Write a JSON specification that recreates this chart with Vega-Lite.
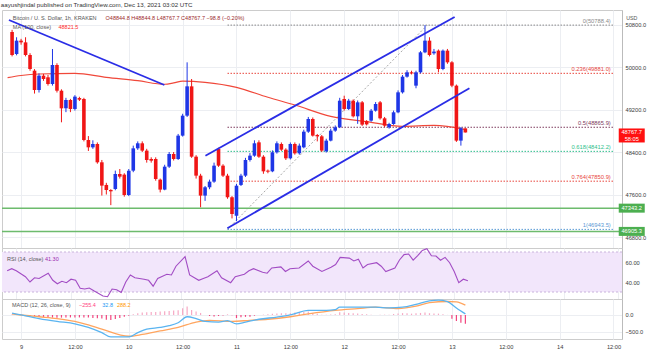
{
"$schema": "https://vega.github.io/schema/vega-lite/v6.json",
"padding": {"left": 0, "top": 2, "right": 0, "bottom": 0},
"bounds": "flush",
"title": {"text": "aayushjindal published on TradingView.com, Dec 13, 2021 03:02 UTC", "anchor": "start", "fontSize": 6.2, "font": "Liberation Sans", "fontWeight": "normal", "color": "#333333", "offset": 1},
"config": {
  "font": "Liberation Sans",
  "view": {"stroke": "#cccccc", "strokeWidth": 1},
  "axis": {"labelFont": "Liberation Sans", "labelFontSize": 5.7, "labelColor": "#3a3a3a", "gridColor": "#eceef2", "gridWidth": 1, "ticks": false, "domainColor": "#bbbbbb", "titleFontSize": 0, "titlePadding": 0},
  "text": {"font": "Liberation Sans", "fontSize": 5.5}
},
"datasets": {
  "candles": [
{"t":"2021-12-08T22:00Z","o":50659,"h":50700,"l":50200,"c":50226},
{"t":"2021-12-08T23:00Z","o":50245,"h":50560,"l":50220,"c":50496},
{"t":"2021-12-09T00:00Z","o":50496,"h":50530,"l":50420,"c":50464},
{"t":"2021-12-09T01:00Z","o":50464,"h":50560,"l":50200,"c":50226},
{"t":"2021-12-09T02:00Z","o":50226,"h":50260,"l":49930,"c":49962},
{"t":"2021-12-09T03:00Z","o":49931,"h":49960,"l":49500,"c":49567},
{"t":"2021-12-09T04:00Z","o":49567,"h":49880,"l":49520,"c":49837},
{"t":"2021-12-09T05:00Z","o":49837,"h":49870,"l":49740,"c":49774},
{"t":"2021-12-09T06:00Z","o":49806,"h":49850,"l":49650,"c":49680},
{"t":"2021-12-09T07:00Z","o":49680,"h":50339,"l":49650,"c":50038},
{"t":"2021-12-09T08:00Z","o":50038,"h":50070,"l":49520,"c":49554},
{"t":"2021-12-09T09:00Z","o":49554,"h":49580,"l":48959,"c":49222},
{"t":"2021-12-09T10:00Z","o":49222,"h":49420,"l":49150,"c":49379},
{"t":"2021-12-09T11:00Z","o":49379,"h":49400,"l":49150,"c":49210},
{"t":"2021-12-09T12:00Z","o":49210,"h":49470,"l":49180,"c":49442},
{"t":"2021-12-09T13:00Z","o":49416,"h":49440,"l":49360,"c":49385},
{"t":"2021-12-09T14:00Z","o":49398,"h":49420,"l":48600,"c":48626},
{"t":"2021-12-09T15:00Z","o":48626,"h":48700,"l":48420,"c":48488},
{"t":"2021-12-09T16:00Z","o":48488,"h":48620,"l":48460,"c":48551},
{"t":"2021-12-09T17:00Z","o":48551,"h":48580,"l":48180,"c":48206},
{"t":"2021-12-09T18:00Z","o":48206,"h":48250,"l":47580,"c":47767},
{"t":"2021-12-09T19:00Z","o":47780,"h":47820,"l":47600,"c":47685},
{"t":"2021-12-09T20:00Z","o":47685,"h":47700,"l":47400,"c":47660},
{"t":"2021-12-09T21:00Z","o":47704,"h":48050,"l":47680,"c":47986},
{"t":"2021-12-09T22:00Z","o":47986,"h":48080,"l":47900,"c":47936},
{"t":"2021-12-09T23:00Z","o":47974,"h":48000,"l":47560,"c":47591},
{"t":"2021-12-10T00:00Z","o":47591,"h":48080,"l":47570,"c":48049},
{"t":"2021-12-10T01:00Z","o":48049,"h":48520,"l":48020,"c":48469},
{"t":"2021-12-10T02:00Z","o":48469,"h":48600,"l":48440,"c":48564},
{"t":"2021-12-10T03:00Z","o":48564,"h":48600,"l":48400,"c":48426},
{"t":"2021-12-10T04:00Z","o":48426,"h":48460,"l":48200,"c":48249},
{"t":"2021-12-10T05:00Z","o":48268,"h":48300,"l":48200,"c":48237},
{"t":"2021-12-10T06:00Z","o":48268,"h":48300,"l":47860,"c":47892},
{"t":"2021-12-10T07:00Z","o":47880,"h":47900,"l":47640,"c":47692},
{"t":"2021-12-10T08:00Z","o":47692,"h":48160,"l":47680,"c":48124},
{"t":"2021-12-10T09:00Z","o":48124,"h":48400,"l":48100,"c":48363},
{"t":"2021-12-10T10:00Z","o":48363,"h":48400,"l":48240,"c":48268},
{"t":"2021-12-10T11:00Z","o":48268,"h":48740,"l":48250,"c":48708},
{"t":"2021-12-10T12:00Z","o":48708,"h":49120,"l":48690,"c":49084},
{"t":"2021-12-10T13:00Z","o":49084,"h":50088,"l":49060,"c":49636},
{"t":"2021-12-10T14:00Z","o":49636,"h":49774,"l":48290,"c":48312},
{"t":"2021-12-10T15:00Z","o":48312,"h":48340,"l":47900,"c":47955},
{"t":"2021-12-10T16:00Z","o":47955,"h":47990,"l":47360,"c":47579},
{"t":"2021-12-10T17:00Z","o":47579,"h":47760,"l":47480,"c":47736},
{"t":"2021-12-10T18:00Z","o":47736,"h":47880,"l":47700,"c":47842},
{"t":"2021-12-10T19:00Z","o":47842,"h":48200,"l":47820,"c":48143},
{"t":"2021-12-10T20:00Z","o":48457,"h":48480,"l":48120,"c":48143},
{"t":"2021-12-10T21:00Z","o":48143,"h":48170,"l":47930,"c":47955},
{"t":"2021-12-10T22:00Z","o":47955,"h":47990,"l":47520,"c":47548},
{"t":"2021-12-10T23:00Z","o":47548,"h":47570,"l":47150,"c":47233},
{"t":"2021-12-11T00:00Z","o":47200,"h":47800,"l":47100,"c":47766},
{"t":"2021-12-11T01:00Z","o":47780,"h":47990,"l":47760,"c":47955},
{"t":"2021-12-11T02:00Z","o":47955,"h":48290,"l":47930,"c":48249},
{"t":"2021-12-11T03:00Z","o":48249,"h":48380,"l":48220,"c":48331},
{"t":"2021-12-11T04:00Z","o":48331,"h":48620,"l":48310,"c":48564},
{"t":"2021-12-11T05:00Z","o":48582,"h":48620,"l":48290,"c":48312},
{"t":"2021-12-11T06:00Z","o":48312,"h":48340,"l":47990,"c":48036},
{"t":"2021-12-11T07:00Z","o":48049,"h":48070,"l":48000,"c":48030},
{"t":"2021-12-11T08:00Z","o":48036,"h":48430,"l":48020,"c":48394},
{"t":"2021-12-11T09:00Z","o":48394,"h":48600,"l":48370,"c":48564},
{"t":"2021-12-11T10:00Z","o":48551,"h":48580,"l":48420,"c":48444},
{"t":"2021-12-11T11:00Z","o":48444,"h":48470,"l":48250,"c":48281},
{"t":"2021-12-11T12:00Z","o":48281,"h":48580,"l":48260,"c":48551},
{"t":"2021-12-11T13:00Z","o":48551,"h":48580,"l":48350,"c":48375},
{"t":"2021-12-11T14:00Z","o":48375,"h":48560,"l":48350,"c":48520},
{"t":"2021-12-11T15:00Z","o":48488,"h":48820,"l":48470,"c":48783},
{"t":"2021-12-11T16:00Z","o":48783,"h":49060,"l":48760,"c":49021},
{"t":"2021-12-11T17:00Z","o":49021,"h":49050,"l":48690,"c":48708},
{"t":"2021-12-11T18:00Z","o":48720,"h":48740,"l":48600,"c":48695},
{"t":"2021-12-11T19:00Z","o":48695,"h":48720,"l":48400,"c":48426},
{"t":"2021-12-11T20:00Z","o":48413,"h":48650,"l":48390,"c":48614},
{"t":"2021-12-11T21:00Z","o":48614,"h":48840,"l":48600,"c":48802},
{"t":"2021-12-11T22:00Z","o":48802,"h":48900,"l":48780,"c":48865},
{"t":"2021-12-11T23:00Z","o":48865,"h":49420,"l":48850,"c":49366},
{"t":"2021-12-12T00:00Z","o":49398,"h":49460,"l":49180,"c":49210},
{"t":"2021-12-12T01:00Z","o":49210,"h":49400,"l":49190,"c":49366},
{"t":"2021-12-12T02:00Z","o":49366,"h":49390,"l":49050,"c":49072},
{"t":"2021-12-12T03:00Z","o":49072,"h":49370,"l":48930,"c":49335},
{"t":"2021-12-12T04:00Z","o":49335,"h":49360,"l":48890,"c":48915},
{"t":"2021-12-12T05:00Z","o":48980,"h":49000,"l":48900,"c":48920},
{"t":"2021-12-12T06:00Z","o":48990,"h":49210,"l":48970,"c":49178},
{"t":"2021-12-12T07:00Z","o":49178,"h":49340,"l":49160,"c":49304},
{"t":"2021-12-12T08:00Z","o":49335,"h":49360,"l":49010,"c":49034},
{"t":"2021-12-12T09:00Z","o":49034,"h":49060,"l":48870,"c":48896},
{"t":"2021-12-12T10:00Z","o":48865,"h":48950,"l":48840,"c":48927},
{"t":"2021-12-12T11:00Z","o":48927,"h":49180,"l":48910,"c":49147},
{"t":"2021-12-12T12:00Z","o":49147,"h":49560,"l":49130,"c":49523},
{"t":"2021-12-12T13:00Z","o":49523,"h":49850,"l":49500,"c":49818},
{"t":"2021-12-12T14:00Z","o":49818,"h":49940,"l":49800,"c":49900},
{"t":"2021-12-12T15:00Z","o":49900,"h":49930,"l":49860,"c":49880},
{"t":"2021-12-12T16:00Z","o":49649,"h":49930,"l":49600,"c":49900},
{"t":"2021-12-12T17:00Z","o":49900,"h":50300,"l":49880,"c":50276},
{"t":"2021-12-12T18:00Z","o":50276,"h":50788.4,"l":50260,"c":50496},
{"t":"2021-12-12T19:00Z","o":50496,"h":50560,"l":50200,"c":50226},
{"t":"2021-12-12T20:00Z","o":50258,"h":50340,"l":50230,"c":50290},
{"t":"2021-12-12T21:00Z","o":50308,"h":50330,"l":49900,"c":49962},
{"t":"2021-12-12T22:00Z","o":49962,"h":50330,"l":49940,"c":50308},
{"t":"2021-12-12T23:00Z","o":50308,"h":50340,"l":50060,"c":50088},
{"t":"2021-12-13T00:00Z","o":50088,"h":50110,"l":49620,"c":49649},
{"t":"2021-12-13T01:00Z","o":49649,"h":49670,"l":48590,"c":48614},
{"t":"2021-12-13T02:00Z","o":48614,"h":48870,"l":48520,"c":48846},
{"t":"2021-12-13T03:00Z","o":48844.8,"h":48844.8,"l":48767.7,"c":48767.7}
  ],
  "ma": [
{"t":"2021-12-08T21:00Z","v":49800},{"t":"2021-12-09T00:00Z","v":49840},{"t":"2021-12-09T04:00Z","v":49868},{"t":"2021-12-09T12:00Z","v":49880},{"t":"2021-12-09T19:00Z","v":49806},{"t":"2021-12-10T02:00Z","v":49742},{"t":"2021-12-10T08:00Z","v":49675},{"t":"2021-12-10T10:00Z","v":49700},{"t":"2021-12-10T12:00Z","v":49735},{"t":"2021-12-10T17:00Z","v":49712},{"t":"2021-12-11T00:00Z","v":49618},{"t":"2021-12-11T07:00Z","v":49430},{"t":"2021-12-11T13:00Z","v":49285},{"t":"2021-12-11T21:00Z","v":49072},{"t":"2021-12-12T05:00Z","v":48971},{"t":"2021-12-12T13:00Z","v":48884},{"t":"2021-12-12T20:00Z","v":48900},{"t":"2021-12-13T03:00Z","v":48822}
  ],
  "channels": [
{"id":"down","t":"2021-12-08T21:18Z","p":50885},{"id":"down","t":"2021-12-10T07:56Z","p":49661},
{"id":"upper","t":"2021-12-10T17:05Z","p":48331},{"id":"upper","t":"2021-12-13T00:36Z","p":50941},
{"id":"lower","t":"2021-12-10T21:58Z","p":46964},{"id":"lower","t":"2021-12-13T03:54Z","p":49599}
  ],
  "fibdiag": [{"t":"2021-12-10T22:00Z","p":46943.5},{"t":"2021-12-12T18:30Z","p":50788.4}],
  "fib": [
{"lvl":"0","p":50788.4,"txt":"0(50788.4)"},
{"lvl":"0.236","p":49881.0,"txt":"0.236(49881.0)"},
{"lvl":"0.5","p":48865.9,"txt":"0.5(48865.9)"},
{"lvl":"0.618","p":48412.2,"txt":"0.618(48412.2)"},
{"lvl":"0.764","p":47850.9,"txt":"0.764(47850.9)"},
{"lvl":"1","p":46943.5,"txt":"1(46943.5)"}
  ],
  "support": [{"p":47343.2,"txt":"47343.2"},{"p":46905.3,"txt":"46905.3"}],
  "rsi": [
{"t":"2021-12-08T22:00Z","v":51.2},{"t":"2021-12-08T23:00Z","v":53.3},{"t":"2021-12-09T00:00Z","v":51.2},{"t":"2021-12-09T02:00Z","v":45.3},{"t":"2021-12-09T03:00Z","v":40},{"t":"2021-12-09T04:00Z","v":44.2},{"t":"2021-12-09T05:00Z","v":43.5},{"t":"2021-12-09T07:00Z","v":48.8},{"t":"2021-12-09T08:00Z","v":41.7},{"t":"2021-12-09T09:00Z","v":38.2},{"t":"2021-12-09T10:00Z","v":40.7},{"t":"2021-12-09T11:00Z","v":39.3},{"t":"2021-12-09T12:00Z","v":42.8},{"t":"2021-12-09T13:00Z","v":41.7},{"t":"2021-12-09T14:00Z","v":33.7},{"t":"2021-12-09T15:00Z","v":33},{"t":"2021-12-09T16:00Z","v":34},{"t":"2021-12-09T17:00Z","v":31.2},{"t":"2021-12-09T19:00Z","v":26},{"t":"2021-12-09T20:00Z","v":25.3},{"t":"2021-12-09T21:00Z","v":33},{"t":"2021-12-09T22:00Z","v":32.3},{"t":"2021-12-09T23:00Z","v":29.5},
{"t":"2021-12-10T00:00Z","v":40},{"t":"2021-12-10T01:00Z","v":47},{"t":"2021-12-10T02:00Z","v":44.2},{"t":"2021-12-10T04:00Z","v":42.8},{"t":"2021-12-10T05:00Z","v":41.7},{"t":"2021-12-10T06:00Z","v":35.8},{"t":"2021-12-10T07:00Z","v":43.5},{"t":"2021-12-10T09:00Z","v":47.7},{"t":"2021-12-10T10:00Z","v":47},{"t":"2021-12-10T11:00Z","v":55.8},{"t":"2021-12-10T13:00Z","v":65.3},{"t":"2021-12-10T14:00Z","v":47},{"t":"2021-12-10T16:00Z","v":41.7},{"t":"2021-12-10T17:00Z","v":43.5},{"t":"2021-12-10T18:00Z","v":45.3},{"t":"2021-12-10T20:00Z","v":51.2},{"t":"2021-12-10T21:00Z","v":44.2},{"t":"2021-12-10T23:00Z","v":39.3},
{"t":"2021-12-11T00:00Z","v":45.3},{"t":"2021-12-11T02:00Z","v":47.7},{"t":"2021-12-11T03:00Z","v":51.2},{"t":"2021-12-11T04:00Z","v":53.3},{"t":"2021-12-11T06:00Z","v":49.8},{"t":"2021-12-11T07:00Z","v":48.8},{"t":"2021-12-11T08:00Z","v":54},{"t":"2021-12-11T10:00Z","v":55.1},{"t":"2021-12-11T11:00Z","v":50.5},{"t":"2021-12-11T12:00Z","v":53.3},{"t":"2021-12-11T14:00Z","v":54},{"t":"2021-12-11T16:00Z","v":61},{"t":"2021-12-11T17:00Z","v":55.8},{"t":"2021-12-11T19:00Z","v":50.5},{"t":"2021-12-11T21:00Z","v":54.7},{"t":"2021-12-11T22:00Z","v":57.5},{"t":"2021-12-11T23:00Z","v":64.6},
{"t":"2021-12-12T01:00Z","v":63.9},{"t":"2021-12-12T02:00Z","v":61},{"t":"2021-12-12T03:00Z","v":62.8},{"t":"2021-12-12T04:00Z","v":54},{"t":"2021-12-12T05:00Z","v":57.5},{"t":"2021-12-12T07:00Z","v":59.3},{"t":"2021-12-12T08:00Z","v":55.8},{"t":"2021-12-12T09:00Z","v":50.5},{"t":"2021-12-12T11:00Z","v":54},{"t":"2021-12-12T12:00Z","v":62},{"t":"2021-12-12T13:00Z","v":67.4},{"t":"2021-12-12T14:00Z","v":68},{"t":"2021-12-12T15:00Z","v":61.8},{"t":"2021-12-12T16:00Z","v":66.3},{"t":"2021-12-12T17:00Z","v":71.6},{"t":"2021-12-12T18:00Z","v":73.3},{"t":"2021-12-12T19:00Z","v":66.3},{"t":"2021-12-12T20:00Z","v":66},{"t":"2021-12-12T21:00Z","v":61.8},{"t":"2021-12-12T22:00Z","v":64.6},{"t":"2021-12-12T23:00Z","v":59.3},
{"t":"2021-12-13T00:00Z","v":50.5},{"t":"2021-12-13T01:00Z","v":39.3},{"t":"2021-12-13T02:00Z","v":42.8},{"t":"2021-12-13T03:00Z","v":41.3}
  ],
  "macdline": [
{"t":"2021-12-08T22:00Z","v":52},{"t":"2021-12-09T00:00Z","v":0},{"t":"2021-12-09T04:00Z","v":-104},{"t":"2021-12-09T08:00Z","v":-188},{"t":"2021-12-09T12:00Z","v":-260},{"t":"2021-12-09T15:00Z","v":-365},{"t":"2021-12-09T18:00Z","v":-521},{"t":"2021-12-09T20:00Z","v":-646},{"t":"2021-12-10T00:00Z","v":-646},{"t":"2021-12-10T02:00Z","v":-521},{"t":"2021-12-10T04:00Z","v":-417},{"t":"2021-12-10T07:00Z","v":-365},{"t":"2021-12-10T09:00Z","v":-313},{"t":"2021-12-10T11:00Z","v":-229},{"t":"2021-12-10T13:00Z","v":-52},{"t":"2021-12-10T15:00Z","v":-104},{"t":"2021-12-10T17:00Z","v":-188},{"t":"2021-12-10T20:00Z","v":-208},{"t":"2021-12-10T22:00Z","v":-167},{"t":"2021-12-11T00:00Z","v":-260},{"t":"2021-12-11T02:00Z","v":-208},{"t":"2021-12-11T05:00Z","v":-125},{"t":"2021-12-11T09:00Z","v":-63},{"t":"2021-12-11T12:00Z","v":0},{"t":"2021-12-11T16:00Z","v":135},{"t":"2021-12-11T20:00Z","v":135},{"t":"2021-12-11T22:00Z","v":156},{"t":"2021-12-11T23:00Z","v":229},{"t":"2021-12-12T03:00Z","v":229},{"t":"2021-12-12T07:00Z","v":229},{"t":"2021-12-12T10:00Z","v":208},{"t":"2021-12-12T13:00Z","v":229},{"t":"2021-12-12T16:00Z","v":313},{"t":"2021-12-12T19:00Z","v":417},{"t":"2021-12-12T21:00Z","v":438},{"t":"2021-12-12T23:00Z","v":396},{"t":"2021-12-13T01:00Z","v":208},{"t":"2021-12-13T03:00Z","v":32.8}
  ],
  "sigline": [
{"t":"2021-12-08T22:00Z","v":31},{"t":"2021-12-09T00:00Z","v":0},{"t":"2021-12-09T04:00Z","v":-52},{"t":"2021-12-09T08:00Z","v":-104},{"t":"2021-12-09T12:00Z","v":-188},{"t":"2021-12-09T15:00Z","v":-292},{"t":"2021-12-09T18:00Z","v":-417},{"t":"2021-12-10T00:00Z","v":-625},{"t":"2021-12-10T03:00Z","v":-573},{"t":"2021-12-10T07:00Z","v":-469},{"t":"2021-12-10T11:00Z","v":-365},{"t":"2021-12-10T15:00Z","v":-208},{"t":"2021-12-10T18:00Z","v":-156},{"t":"2021-12-10T23:00Z","v":-188},{"t":"2021-12-11T03:00Z","v":-156},{"t":"2021-12-11T07:00Z","v":-125},{"t":"2021-12-11T12:00Z","v":-52},{"t":"2021-12-11T16:00Z","v":31},{"t":"2021-12-11T22:00Z","v":135},{"t":"2021-12-12T03:00Z","v":188},{"t":"2021-12-12T07:00Z","v":229},{"t":"2021-12-12T12:00Z","v":188},{"t":"2021-12-12T16:00Z","v":260},{"t":"2021-12-12T19:00Z","v":365},{"t":"2021-12-12T23:00Z","v":396},{"t":"2021-12-13T01:00Z","v":385},{"t":"2021-12-13T03:00Z","v":288.2}
  ],
  "histo": [
{"t":"2021-12-08T22:00Z","v":21},{"t":"2021-12-08T23:00Z","v":15},{"t":"2021-12-09T00:00Z","v":3},{"t":"2021-12-09T01:00Z","v":-12},{"t":"2021-12-09T02:00Z","v":-25},{"t":"2021-12-09T03:00Z","v":-38},{"t":"2021-12-09T04:00Z","v":-52},{"t":"2021-12-09T05:00Z","v":-60},{"t":"2021-12-09T06:00Z","v":-68},{"t":"2021-12-09T07:00Z","v":-76},{"t":"2021-12-09T08:00Z","v":-84},{"t":"2021-12-09T09:00Z","v":-78},{"t":"2021-12-09T10:00Z","v":-75},{"t":"2021-12-09T11:00Z","v":-72},{"t":"2021-12-09T12:00Z","v":-72},{"t":"2021-12-09T13:00Z","v":-72},{"t":"2021-12-09T14:00Z","v":-73},{"t":"2021-12-09T15:00Z","v":-73},{"t":"2021-12-09T16:00Z","v":-85},{"t":"2021-12-09T17:00Z","v":-95},{"t":"2021-12-09T18:00Z","v":-104},{"t":"2021-12-09T19:00Z","v":-140},{"t":"2021-12-09T20:00Z","v":-150},{"t":"2021-12-09T21:00Z","v":-120},{"t":"2021-12-09T22:00Z","v":-90},{"t":"2021-12-09T23:00Z","v":-55},
{"t":"2021-12-10T00:00Z","v":-21},{"t":"2021-12-10T01:00Z","v":20},{"t":"2021-12-10T02:00Z","v":52},{"t":"2021-12-10T03:00Z","v":75},{"t":"2021-12-10T04:00Z","v":80},{"t":"2021-12-10T05:00Z","v":85},{"t":"2021-12-10T06:00Z","v":90},{"t":"2021-12-10T07:00Z","v":104},{"t":"2021-12-10T08:00Z","v":110},{"t":"2021-12-10T09:00Z","v":120},{"t":"2021-12-10T10:00Z","v":130},{"t":"2021-12-10T11:00Z","v":136},{"t":"2021-12-10T12:00Z","v":200},{"t":"2021-12-10T13:00Z","v":250},{"t":"2021-12-10T14:00Z","v":150},{"t":"2021-12-10T15:00Z","v":104},{"t":"2021-12-10T16:00Z","v":60},{"t":"2021-12-10T17:00Z","v":3},{"t":"2021-12-10T18:00Z","v":-30},{"t":"2021-12-10T19:00Z","v":-45},{"t":"2021-12-10T20:00Z","v":-30},{"t":"2021-12-10T21:00Z","v":-15},{"t":"2021-12-10T22:00Z","v":20},{"t":"2021-12-10T23:00Z","v":-10},
{"t":"2021-12-11T00:00Z","v":-90},{"t":"2021-12-11T01:00Z","v":-70},{"t":"2021-12-11T02:00Z","v":-55},{"t":"2021-12-11T03:00Z","v":-50},{"t":"2021-12-11T04:00Z","v":-20},{"t":"2021-12-11T05:00Z","v":3},{"t":"2021-12-11T06:00Z","v":10},{"t":"2021-12-11T07:00Z","v":25},{"t":"2021-12-11T08:00Z","v":40},{"t":"2021-12-11T09:00Z","v":45},{"t":"2021-12-11T10:00Z","v":50},{"t":"2021-12-11T11:00Z","v":52},{"t":"2021-12-11T12:00Z","v":52},{"t":"2021-12-11T13:00Z","v":70},{"t":"2021-12-11T14:00Z","v":85},{"t":"2021-12-11T15:00Z","v":95},{"t":"2021-12-11T16:00Z","v":104},{"t":"2021-12-11T17:00Z","v":60},{"t":"2021-12-11T18:00Z","v":35},{"t":"2021-12-11T19:00Z","v":10},{"t":"2021-12-11T20:00Z","v":5},{"t":"2021-12-11T21:00Z","v":15},{"t":"2021-12-11T22:00Z","v":21},{"t":"2021-12-11T23:00Z","v":80},
{"t":"2021-12-12T00:00Z","v":70},{"t":"2021-12-12T01:00Z","v":60},{"t":"2021-12-12T02:00Z","v":50},{"t":"2021-12-12T03:00Z","v":41},{"t":"2021-12-12T04:00Z","v":30},{"t":"2021-12-12T05:00Z","v":20},{"t":"2021-12-12T06:00Z","v":10},{"t":"2021-12-12T07:00Z","v":3},{"t":"2021-12-12T08:00Z","v":5},{"t":"2021-12-12T09:00Z","v":10},{"t":"2021-12-12T10:00Z","v":10},{"t":"2021-12-12T11:00Z","v":30},{"t":"2021-12-12T12:00Z","v":45},{"t":"2021-12-12T13:00Z","v":55},{"t":"2021-12-12T14:00Z","v":50},{"t":"2021-12-12T15:00Z","v":40},{"t":"2021-12-12T16:00Z","v":53},{"t":"2021-12-12T17:00Z","v":60},{"t":"2021-12-12T18:00Z","v":70},{"t":"2021-12-12T19:00Z","v":52},{"t":"2021-12-12T20:00Z","v":45},{"t":"2021-12-12T21:00Z","v":40},{"t":"2021-12-12T22:00Z","v":20},{"t":"2021-12-12T23:00Z","v":3},
{"t":"2021-12-13T00:00Z","v":-110},{"t":"2021-12-13T01:00Z","v":-177},{"t":"2021-12-13T02:00Z","v":-230},{"t":"2021-12-13T03:00Z","v":-255.4}
  ]
},
"spacing": 0,
"vconcat": [
{
  "width": 620, "height": 238,
  "layer": [
    {"data": {"name": "fib"}, "mark": {"type": "rule", "strokeDash": [1.5, 1.5], "strokeWidth": 1},
     "encoding": {
       "x": {"datum": 1639173600000, "type": "temporal"},
       "x2": {"datum": 1639483560000},
       "y": {"field": "p", "type": "quantitative"},
       "color": {"field": "lvl", "type": "nominal", "legend": null, "scale": {"domain": ["0", "0.236", "0.5", "0.618", "0.764", "1"], "range": ["#8a8a8a", "#e8453c", "#7d3a5c", "#2fbf8c", "#e8453c", "#5b9bd5"]}}}},
    {"data": {"name": "fib"}, "mark": {"type": "text", "align": "right", "baseline": "bottom", "dy": -1, "fontSize": 5.8},
     "encoding": {
       "x": {"datum": 1639481040000, "type": "temporal"},
       "y": {"field": "p", "type": "quantitative"},
       "text": {"field": "txt"},
       "color": {"field": "lvl", "type": "nominal", "legend": null}}},
    {"data": {"name": "fibdiag"}, "mark": {"type": "line", "strokeDash": [2, 2], "strokeWidth": 1, "color": "#a8a8a8"},
     "encoding": {"x": {"field": "t", "type": "temporal"}, "y": {"field": "p", "type": "quantitative"}}},
    {"data": {"name": "support"}, "mark": {"type": "rule", "color": "#6dbb6d", "strokeWidth": 1.5},
     "encoding": {"y": {"field": "p", "type": "quantitative"}}},
    {"data": {"name": "ma"}, "mark": {"type": "line", "color": "#f0483a", "strokeWidth": 1.2, "interpolate": "monotone"},
     "encoding": {"x": {"field": "t", "type": "temporal"}, "y": {"field": "v", "type": "quantitative"}}},
    {"data": {"name": "candles"}, "mark": {"type": "rule", "strokeWidth": 1},
     "encoding": {
       "x": {"field": "t", "type": "temporal", "title": null,
             "scale": {"type": "utc", "nice": false, "domain": [1638996720000, 1639486020000]},
             "axis": {"title": null, "labels": false, "ticks": false, "domain": false, "grid": true, "values": [1639008000000, 1639051200000, 1639094400000, 1639137600000, 1639180800000, 1639224000000, 1639267200000, 1639310400000, 1639353600000, 1639396800000, 1639440000000, 1639483200000]}},
       "y": {"field": "l", "type": "quantitative", "title": null,
             "scale": {"domain": [46593, 51073], "nice": false, "zero": false},
             "axis": {"title": null, "orient": "right", "values": [46800, 47200, 47600, 48000, 48400, 48800, 49200, 49600, 50000, 50400, 50800], "format": ".1f", "labelPadding": 3, "grid": true, "domain": true}},
       "y2": {"field": "h"},
       "color": {"condition": {"test": "datum.c < datum.o", "value": "#f01616"}, "value": "#1e36e6"}}},
    {"data": {"name": "candles"}, "mark": {"type": "bar", "size": 3.6},
     "encoding": {
       "x": {"field": "t", "type": "temporal"},
       "y": {"field": "o", "type": "quantitative"},
       "y2": {"field": "c"},
       "color": {"condition": {"test": "datum.c < datum.o", "value": "#f01616"}, "value": "#1e36e6"}}},
    {"data": {"name": "channels"}, "mark": {"type": "line", "color": "#2a2de6", "strokeWidth": 1.8},
     "encoding": {"x": {"field": "t", "type": "temporal"}, "y": {"field": "p", "type": "quantitative"}, "detail": {"field": "id"}}},
    {"data": {"values": [{}]}, "mark": {"type": "text", "align": "left", "baseline": "middle", "color": "#555555"},
     "encoding": {"x": {"datum": 1639001400000, "type": "temporal"}, "y": {"datum": 50922}, "text": {"value": "Bitcoin / U. S. Dollar, 1h, KRAKEN"}}},
    {"data": {"values": [{}]}, "mark": {"type": "text", "align": "left", "baseline": "middle", "color": "#9b2a2a"},
     "encoding": {"x": {"datum": 1639075800000, "type": "temporal"}, "y": {"datum": 50922}, "text": {"value": "O48844.8  H48844.8  L48767.7  C48767.7  −98.8 (−0.20%)"}}},
    {"data": {"values": [{}]}, "mark": {"type": "text", "align": "left", "baseline": "middle", "color": "#555555"},
     "encoding": {"x": {"datum": 1639001400000, "type": "temporal"}, "y": {"datum": 50753}, "text": {"value": "MA (100, close)"}}},
    {"data": {"values": [{}]}, "mark": {"type": "text", "align": "left", "baseline": "middle", "color": "#ff2a2a"},
     "encoding": {"x": {"datum": 1639038000000, "type": "temporal"}, "y": {"datum": 50753}, "text": {"value": "48821.5"}}},
    {"data": {"values": [{}]}, "mark": {"type": "text", "align": "center", "baseline": "middle", "color": "#555555", "fontSize": 5.3},
     "encoding": {"x": {"datum": 1639497840000, "type": "temporal"}, "y": {"datum": 50930}, "text": {"value": "USD"}}},
    {"data": {"values": [{}]}, "mark": {"type": "tick", "orient": "horizontal", "size": 26, "thickness": 14, "yOffset": 3, "color": "#ff1010", "opacity": 1},
     "encoding": {"x": {"datum": 1639497840000, "type": "temporal"}, "y": {"datum": 48767.7}}},
    {"data": {"values": [{}]}, "mark": {"type": "text", "align": "center", "baseline": "middle", "color": "#ffffff", "fontSize": 5.7},
     "encoding": {"x": {"datum": 1639497840000, "type": "temporal"}, "y": {"datum": 48767.7}, "text": {"value": "48767.7"}}},
    {"data": {"values": [{}]}, "mark": {"type": "text", "align": "center", "baseline": "middle", "color": "#ffffff", "dy": 6.5, "fontSize": 5.7},
     "encoding": {"x": {"datum": 1639497840000, "type": "temporal"}, "y": {"datum": 48767.7}, "text": {"value": "58:05"}}},
    {"data": {"name": "support"}, "mark": {"type": "tick", "orient": "horizontal", "size": 26, "thickness": 9, "color": "#4caf50", "opacity": 1},
     "encoding": {"x": {"datum": 1639497840000, "type": "temporal"}, "y": {"field": "p", "type": "quantitative"}}},
    {"data": {"name": "support"}, "mark": {"type": "text", "align": "center", "baseline": "middle", "color": "#ffffff", "fontSize": 5.7},
     "encoding": {"x": {"datum": 1639497840000, "type": "temporal"}, "y": {"field": "p", "type": "quantitative"}, "text": {"field": "txt"}}}
  ]
},
{
  "width": 620, "height": 51,
  "layer": [
    {"data": {"values": [{}]}, "mark": {"type": "rect", "color": "#f2e6fb"},
     "encoding": {"y": {"datum": 70}, "y2": {"datum": 30}}},
    {"data": {"values": [{}]}, "mark": {"type": "rule", "color": "#c9b3dc", "strokeDash": [2, 2], "strokeWidth": 1},
     "encoding": {"y": {"datum": 70}}},
    {"data": {"values": [{}]}, "mark": {"type": "rule", "color": "#c9b3dc", "strokeDash": [2, 2], "strokeWidth": 1},
     "encoding": {"y": {"datum": 30}}},
    {"data": {"name": "rsi"}, "mark": {"type": "line", "color": "#a24cc4", "strokeWidth": 1.1},
     "encoding": {
       "x": {"field": "t", "type": "temporal", "title": null,
             "scale": {"type": "utc", "nice": false, "domain": [1638996720000, 1639486020000]},
             "axis": {"title": null, "labels": false, "ticks": false, "domain": false, "grid": true, "values": [1639008000000, 1639051200000, 1639094400000, 1639137600000, 1639180800000, 1639224000000, 1639267200000, 1639310400000, 1639353600000, 1639396800000, 1639440000000, 1639483200000]}},
       "y": {"field": "v", "type": "quantitative", "title": null,
             "scale": {"domain": [23, 74], "nice": false, "zero": false},
             "axis": {"title": null, "orient": "right", "values": [40, 60], "format": ".2f", "labelPadding": 3, "grid": true, "gridColor": "#ddd0e8", "domain": true}}}},
    {"data": {"values": [{}]}, "mark": {"type": "text", "align": "left", "baseline": "middle", "color": "#555555"},
     "encoding": {"x": {"datum": 1639000680000, "type": "temporal"}, "y": {"datum": 63.5}, "text": {"value": "RSI (14, close)"}}},
    {"data": {"values": [{}]}, "mark": {"type": "text", "align": "left", "baseline": "middle", "color": "#9c27b0"},
     "encoding": {"x": {"datum": 1639030620000, "type": "temporal"}, "y": {"datum": 63.5}, "text": {"value": "41.30"}}}
  ]
},
{
  "width": 620, "height": 40,
  "layer": [
    {"data": {"name": "histo"}, "mark": {"type": "bar", "size": 1.2},
     "encoding": {
       "x": {"field": "t", "type": "temporal", "title": null,
             "scale": {"type": "utc", "nice": false, "domain": [1638996720000, 1639486020000]},
             "axis": {"title": null, "ticks": false, "domain": false, "grid": true, "labelPadding": 4, "values": [1639008000000, 1639051200000, 1639094400000, 1639137600000, 1639180800000, 1639224000000, 1639267200000, 1639310400000, 1639353600000, 1639396800000, 1639440000000, 1639483200000], "labelExpr": "utchours(datum.value) == 0 ? '' + utcdate(datum.value) : '12:00'"}},
       "y": {"field": "v", "type": "quantitative", "title": null,
             "scale": {"domain": [-706, 470], "nice": false, "zero": false},
             "axis": {"title": null, "orient": "right", "values": [-500, 0], "format": ".1f", "labelPadding": 3, "grid": true, "domain": true}},
       "y2": {"datum": 0},
       "color": {"condition": {"test": "datum.v < 0", "value": "#f2457e"}, "value": "#f6a9c4"}}},
    {"data": {"name": "sigline"}, "mark": {"type": "line", "color": "#ffa55f", "strokeWidth": 1.3, "interpolate": "monotone"},
     "encoding": {"x": {"field": "t", "type": "temporal"}, "y": {"field": "v", "type": "quantitative"}}},
    {"data": {"name": "macdline"}, "mark": {"type": "line", "color": "#5ab4f0", "strokeWidth": 1.3, "interpolate": "monotone"},
     "encoding": {"x": {"field": "t", "type": "temporal"}, "y": {"field": "v", "type": "quantitative"}}},
    {"data": {"values": [{}]}, "mark": {"type": "text", "align": "left", "baseline": "middle", "color": "#555555"},
     "encoding": {"x": {"datum": 1639000680000, "type": "temporal"}, "y": {"datum": 290}, "text": {"value": "MACD (12, 26, close, 9)"}}},
    {"data": {"values": [{}]}, "mark": {"type": "text", "align": "left", "baseline": "middle", "color": "#ff4081"},
     "encoding": {"x": {"datum": 1639054440000, "type": "temporal"}, "y": {"datum": 290}, "text": {"value": "−255.4"}}},
    {"data": {"values": [{}]}, "mark": {"type": "text", "align": "left", "baseline": "middle", "color": "#2196f3"},
     "encoding": {"x": {"datum": 1639073160000, "type": "temporal"}, "y": {"datum": 290}, "text": {"value": "32.8"}}},
    {"data": {"values": [{}]}, "mark": {"type": "text", "align": "left", "baseline": "middle", "color": "#ff9800"},
     "encoding": {"x": {"datum": 1639084860000, "type": "temporal"}, "y": {"datum": 290}, "text": {"value": "288.2"}}}
  ]
}
]
}
